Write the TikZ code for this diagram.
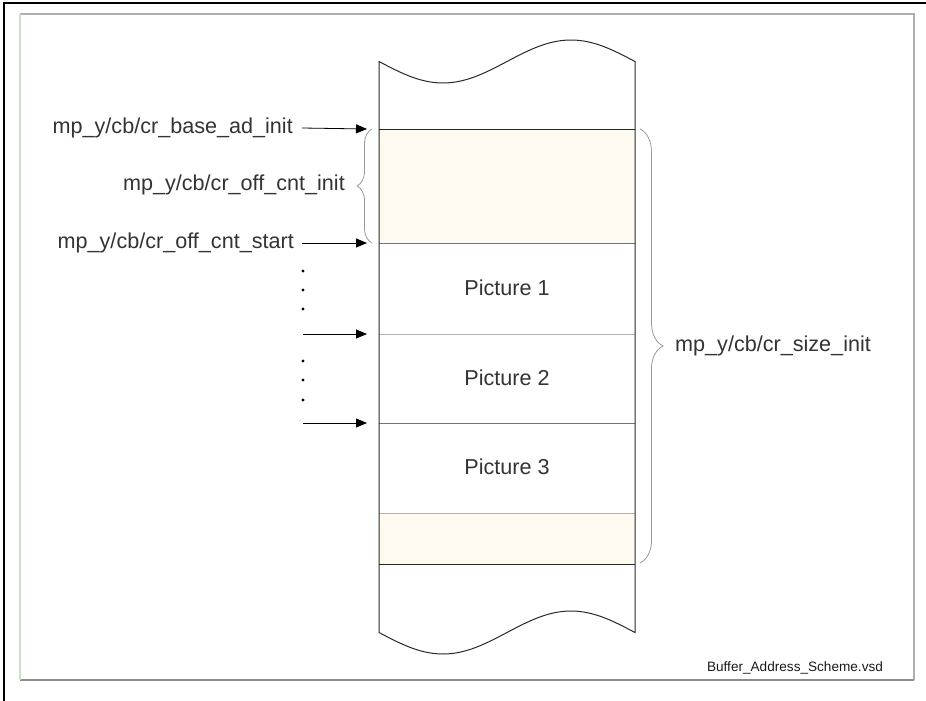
\documentclass[tikz,border=0pt]{standalone}
\usepackage{fontspec}
\setmainfont{Liberation Sans}
\usetikzlibrary{arrows.meta,decorations.pathreplacing}
\definecolor{cream}{RGB}{254,250,240}
\definecolor{edgedk}{RGB}{35,45,35}
\definecolor{framegr}{RGB}{175,175,175}
\definecolor{framegn}{RGB}{200,226,200}
\tikzset{
  lbl/.style ={inner sep=0pt,anchor=east,text=black!80,font=\fontsize{21.6}{24}\selectfont},
  pic/.style ={inner sep=0pt,text=black!80,font=\fontsize{21.6}{24}\selectfont},
  arr/.style ={-{Triangle[length=11pt,width=9pt]},line width=.8pt,draw=black},
  brc/.style ={decorate,decoration={brace,amplitude=#1},draw=black!40,line width=.8pt},
  dotc/.style={circle,fill=black,inner sep=0pt,minimum size=3.4pt},
  sep/.style ={line width=1pt},
}

\begin{document}
\begin{tikzpicture}[x=1pt,y=-1pt]
  \useasboundingbox (0,0) rectangle (926,701);

  % ---------- frame ----------
  \draw[line width=1.5pt,black] (4,701) -- (4,3) -- (926,3);
  \draw[line width=1.2pt,framegr] (20,14) -- (914,14) -- (914,680);
  \draw[line width=1.4pt,black!45] (20,680) -- (914,680);
  \draw[line width=1.4pt,framegn] (20,14) -- (20,680);

  % ---------- buffer ----------
  \fill[cream] (379,129) rectangle (635,243);
  \fill[cream] (379,513) rectangle (635,564);
  \draw[sep,black!30] (379,334) -- (635,334);
  \draw[sep,black!30] (379,513) -- (635,513);
  \draw[sep,black!55] (379,243) -- (635,243);
  \draw[sep,black!55] (379,423) -- (635,423);
  \draw[sep,edgedk] (379,129) -- (635,129);
  \draw[sep,edgedk] (379,564) -- (635,564);
  \draw[line width=1pt,edgedk] (379,633) -- (379,62)
    -- plot[domain=379:635,samples=80] (\x,{61.5+21.5*sin((\x-379)*1.40625)})
    -- (635,632)
    -- plot[domain=635:379,samples=80] (\x,{632.5+21.5*sin((\x-379)*1.40625)})
    -- cycle;

  \node[pic] (pic1) at (507,288) {Picture 1};
  \node[pic] (pic2) at (507,378) {Picture 2};
  \node[pic] (pic3) at (507,467) {Picture 3};

  % ---------- labels and arrows ----------
  \node[lbl] (base)     at (293,128) {mp\_y/cb/cr\_base\_ad\_init};
  \node[lbl] (offinit)  at (345,185) {mp\_y/cb/cr\_off\_cnt\_init};
  \node[lbl] (offstart) at (294,243) {mp\_y/cb/cr\_off\_cnt\_start};
  \node[pic,anchor=west] (size) at (675,346) {mp\_y/cb/cr\_size\_init};

  \coordinate (t1) at (367,129);
  \coordinate (t2) at (367,243);
  \coordinate (t3) at (367,334);
  \coordinate (t4) at (367,423);
  \coordinate (s3) at (303,334);
  \coordinate (s4) at (303,423);
  \draw[arr] ([xshift=9pt]base.east) -- (t1);
  \draw[arr] ([xshift=8pt]offstart.east) -- (t2);
  \draw[arr] (s3) -- (t3);
  \draw[arr] (s4) -- (t4);

  \foreach \yy [count=\i] in {271,290,309,361,380,400}
    \node[dotc] (dot\i) at (303,\yy) {};

  % ---------- braces ----------
  \draw[brc=15] (372,243) -- (372,129);
  \draw[brc=23] (640,129) -- (640,563);

  \node[inner sep=0pt,text=black!90,font=\fontsize{13.6}{16}\selectfont] (fname) at (795,668)
    {Buffer\_Address\_Scheme.vsd};

\end{tikzpicture}
\end{document}
